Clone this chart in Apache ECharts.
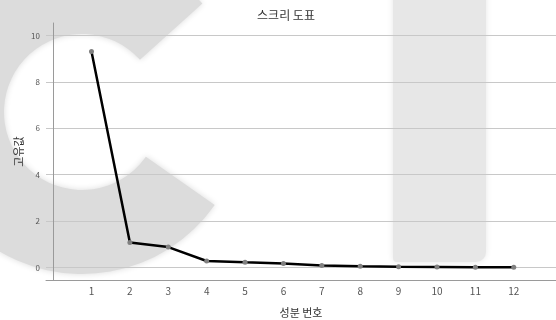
<!DOCTYPE html>
<html>
<head>
<meta charset="utf-8">
<script src="https://cdn.jsdelivr.net/npm/echarts@6/dist/echarts.min.js"></script>
<style>
  html, body { margin: 0; padding: 0; background: #ffffff; }
  #chart { width: 556px; height: 320px; }
</style>
</head>
<body>
<div id="chart"></div>
<script>
// Scree plot: eigenvalue of each component
const components = [1, 2, 3, 4, 5, 6, 7, 8, 9, 10, 11, 12];
const eigenvalues = [9.31, 1.08, 0.88, 0.28, 0.22, 0.17, 0.09, 0.05, 0.03, 0.02, 0.01, 0.01];
const yTicks = [0, 2, 4, 6, 8, 10];

const FONT = '"Noto Sans CJK KR", "Noto Sans", sans-serif';
const chart = echarts.init(document.getElementById('chart'), null, { renderer: 'canvas' });

const points = components.map((c, i) => [c, eigenvalues[i]]);

chart.setOption({
  animation: false,
  backgroundColor: '#ffffff',
  title: {
    text: '스크리 도표',
    left: 281,
    top: 4,
    textAlign: 'center',
    textStyle: { fontFamily: FONT, fontSize: 12, fontWeight: 'normal', color: '#333333' }
  },
  // soft grey backdrop shapes
  graphic: [
    {
      type: 'sector',
      z: -10,
      silent: true,
      shape: {
        cx: 82, cy: 112, r0: 78, r: 162,
        startAngle: 35 * Math.PI / 180,
        endAngle: 318 * Math.PI / 180,
        clockwise: true
      },
      style: { fill: '#dcdcdc', shadowBlur: 6, shadowColor: '#dcdcdc' }
    },
    {
      type: 'rect',
      z: -10,
      silent: true,
      shape: { x: 393, y: -20, width: 93, height: 282, r: [0, 0, 10, 4] },
      style: { fill: '#e7e7e7', shadowBlur: 6, shadowColor: '#e7e7e7' }
    }
  ],
  grid: { left: 46, right: 0, top: 23, bottom: 40, containLabel: false, outerBoundsMode: 'none' },
  xAxis: {
    type: 'value',
    min: -0.185,
    max: 13.1,
    name: '성분 번호',
    nameLocation: 'middle',
    nameGap: 27,
    nameMoveOverlap: false,
    nameTextStyle: { fontFamily: FONT, fontSize: 11, color: '#333333' },
    axisLine: { show: true, onZero: false, lineStyle: { color: '#9a9a9a', width: 1 } },
    axisTick: { show: false, customValues: components },
    axisLabel: { customValues: components, fontFamily: FONT, fontSize: 10, color: '#555555', margin: 6 },
    splitLine: { show: false }
  },
  yAxis: {
    type: 'value',
    min: -0.54,
    max: 10.54,
    name: '고유값',
    nameLocation: 'middle',
    nameGap: 22,
    nameMoveOverlap: false,
    nameRotate: 90,
    nameTextStyle: { fontFamily: FONT, fontSize: 11, color: '#333333' },
    axisLine: { show: true, lineStyle: { color: '#9a9a9a', width: 1 } },
    axisTick: { show: false, customValues: yTicks },
    axisLabel: { customValues: yTicks, fontFamily: FONT, fontSize: 8, color: '#555555', margin: 6 },
    splitLine: { show: true, lineStyle: { color: '#c8c8c8', width: 1 } }
  },
  series: [{
    type: 'line',
    data: points,
    symbol: 'circle',
    symbolSize: 5,
    lineStyle: { color: '#000000', width: 2.5 },
    itemStyle: { color: '#808080', borderWidth: 0 },
    z: 3
  }]
});
</script>
</body>
</html>
